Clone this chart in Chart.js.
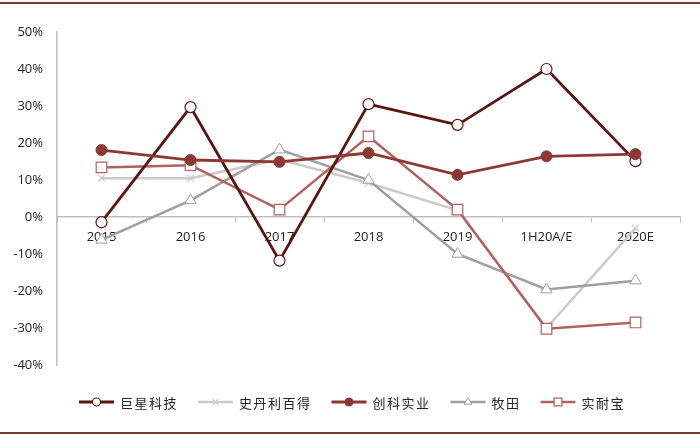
<!DOCTYPE html>
<html>
<head>
<meta charset="utf-8">
<script src="https://cdn.jsdelivr.net/npm/chart.js@4/dist/chart.umd.min.js"></script>
<style>
html,body{margin:0;padding:0;background:#fff;}
#wrap{width:700px;height:437px;position:relative;}
</style>
</head>
<body>
<div id="wrap"><canvas id="c" width="700" height="437"></canvas></div>
<script>
const categories = ['2015','2016','2017','2018','2019','1H20A/E','2020E'];
const juxing   = [-1.4, 29.7, -11.8, 30.5, 24.9, 40.0, 15.1];
const stanley  = [10.5, 10.5, 15.5, 9.2, 1.8, -30.0, -3.0];
const tti      = [18.1, 15.4, 14.9, 17.3, 11.4, 16.4, 17.0];
const makita   = [-6.2, 4.5, 18.2, 10.0, -10.0, -19.6, -17.2];
const snapon   = [13.4, 14.0, 2.0, 21.8, 2.0, -30.2, -28.5];
const seriesNames = ['巨星科技','史丹利百得','创科实业','牧田','实耐宝'];
const yTicks = [-40,-30,-20,-10,0,10,20,30,40,50];

const FONT = "'Open Sans','Noto Sans CJK SC',sans-serif";

const ds = [
  {label: seriesNames[0], data: juxing, borderColor:'#5b1511', backgroundColor:'#ffffff', pointStyle:'circle', pointRadius:5.5, pointBorderWidth:1.2, borderWidth:2.8, order:1, legendR:4},
  {label: seriesNames[1], data: stanley, borderColor:'#cbcbcb', backgroundColor:'#cbcbcb', pointStyle:'crossRot', pointRadius:5, pointBorderWidth:1.2, borderWidth:2.5, order:5, legendR:4},
  {label: seriesNames[2], data: tti, borderColor:'#8c3833', backgroundColor:'#8c3833', pointStyle:'circle', pointRadius:5.5, pointBorderWidth:1, borderWidth:2.8, order:0, legendR:4},
  {label: seriesNames[3], data: makita, borderColor:'#9f9f9f', backgroundColor:'#ffffff', pointStyle:'triangle', pointRadius:6.5, pointBorderWidth:1, borderWidth:2.5, order:4, legendR:4.5},
  {label: seriesNames[4], data: snapon, borderColor:'#b2605b', backgroundColor:'#ffffff', pointStyle:'rect', pointRadius:7.5, pointBorderWidth:1.2, borderWidth:2.5, order:3, legendR:5.5}
];
ds.forEach(d => { d.pointBorderColor = d.borderColor; d.pointBackgroundColor = d.backgroundColor; d.tension = 0; d.fill = false; });

const framePlugin = {
  id: 'frame',
  afterDraw(chart) {
    const ctx = chart.ctx;
    ctx.save();
    ctx.strokeStyle = '#7a3c33';
    ctx.lineWidth = 2;
    ctx.beginPath(); ctx.moveTo(0, 3); ctx.lineTo(700, 3); ctx.stroke();
    ctx.beginPath(); ctx.moveTo(0, 433); ctx.lineTo(700, 433); ctx.stroke();

    // legend
    ctx.font = "13px 'Noto Sans CJK SC', sans-serif";
    try { ctx.letterSpacing = '1.5px'; } catch(e) {}
    const lineLen = 35, gapText = 6, gapItem = 20;
    const widths = chart.data.datasets.map(d => ctx.measureText(d.label).width);
    let total = 0;
    widths.forEach((w,i) => { total += lineLen + gapText + w + (i < widths.length-1 ? gapItem : 0); });
    let x = 352 - total/2;
    const y = 402;
    chart.data.datasets.forEach((d, i) => {
      ctx.strokeStyle = d.borderColor;
      ctx.lineWidth = d.borderWidth;
      ctx.beginPath(); ctx.moveTo(x, y); ctx.lineTo(x + lineLen, y); ctx.stroke();
      ctx.fillStyle = d.pointBackgroundColor;
      ctx.strokeStyle = d.pointBorderColor;
      ctx.lineWidth = d.pointBorderWidth;
      Chart.helpers.drawPoint(ctx, {pointStyle: d.pointStyle, rotation: 0, radius: d.legendR, borderWidth: d.pointBorderWidth}, x + lineLen/2, y);
      ctx.fillStyle = '#222';
      ctx.textBaseline = 'middle';
      ctx.textAlign = 'left';
      ctx.fillText(d.label, x + lineLen + gapText, y + 1);
      x += lineLen + gapText + widths[i] + gapItem;
    });
    ctx.restore();
  }
};

new Chart(document.getElementById('c'), {
  type: 'line',
  data: { labels: categories, datasets: ds },
  options: {
    responsive: false,
    animation: false,
    devicePixelRatio: 1,
    layout: { padding: { top: 32, bottom: 72, left: 0, right: 20 } },
    plugins: { legend: { display: false }, tooltip: { enabled: false } },
    scales: {
      x: {
        type: 'category',
        position: { y: 0 },
        offset: true,
        grid: { display: true, drawOnChartArea: false, drawTicks: true, tickLength: 5, color: '#bfbfbf', offset: true },
        border: { display: true, color: '#bfbfbf', width: 1.5 },
        ticks: { color: '#222', font: { family: FONT, size: 13 }, padding: 7, maxRotation: 0, autoSkip: false }
      },
      y: {
        min: -40, max: 50,
        afterBuildTicks(axis) { axis.ticks = yTicks.map(v => ({ value: v })); },
        afterFit(axis) { axis.width = 57; },
        grid: { display: false },
        border: { display: true, color: '#bfbfbf', width: 1.5 },
        ticks: { color: '#222', font: { family: FONT, size: 13 }, padding: 6, callback: v => v + '%' }
      }
    }
  },
  plugins: [framePlugin]
});
</script>
</body>
</html>
